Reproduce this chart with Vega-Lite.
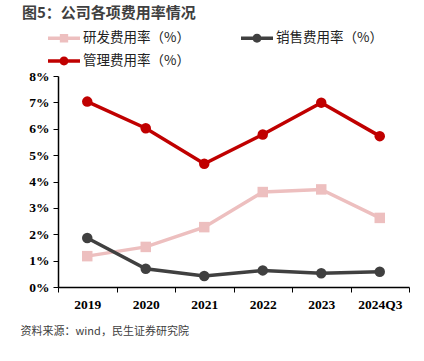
{
  "$schema": "https://vega.github.io/schema/vega-lite/v6.json",
  "autosize": "none",
  "width": 351,
  "height": 211,
  "padding": {"left": 58, "top": 76, "right": 15, "bottom": 74},
  "background": "white",
  "title": {
    "text": "图5：公司各项费用率情况",
    "anchor": "start",
    "frame": "group",
    "font": "Noto Sans CJK SC",
    "fontSize": 15,
    "fontWeight": "bold",
    "color": "#404040",
    "dx": -36,
    "dy": -1,
    "offset": 0
  },
  "data": {
    "values": [
      {"year": "2019", "series": "研发费用率（%）", "value": 1.17},
      {"year": "2020", "series": "研发费用率（%）", "value": 1.52},
      {"year": "2021", "series": "研发费用率（%）", "value": 2.27},
      {"year": "2022", "series": "研发费用率（%）", "value": 3.6},
      {"year": "2023", "series": "研发费用率（%）", "value": 3.7},
      {"year": "2024Q3", "series": "研发费用率（%）", "value": 2.62},
      {"year": "2019", "series": "销售费用率（%）", "value": 1.86},
      {"year": "2020", "series": "销售费用率（%）", "value": 0.69},
      {"year": "2021", "series": "销售费用率（%）", "value": 0.42},
      {"year": "2022", "series": "销售费用率（%）", "value": 0.63},
      {"year": "2023", "series": "销售费用率（%）", "value": 0.52},
      {"year": "2024Q3", "series": "销售费用率（%）", "value": 0.58},
      {"year": "2019", "series": "管理费用率（%）", "value": 7.03},
      {"year": "2020", "series": "管理费用率（%）", "value": 6.02},
      {"year": "2021", "series": "管理费用率（%）", "value": 4.67},
      {"year": "2022", "series": "管理费用率（%）", "value": 5.78},
      {"year": "2023", "series": "管理费用率（%）", "value": 6.99},
      {"year": "2024Q3", "series": "管理费用率（%）", "value": 5.72}
    ]
  },
  "encoding": {
    "x": {
      "field": "year",
      "type": "ordinal",
      "sort": null,
      "scale": {"paddingInner": 0, "paddingOuter": 0},
      "axis": {
        "title": "资料来源：wind，民生证券研究院",
        "titleFont": "Noto Sans CJK SC",
        "titleFontSize": 11,
        "titleFontWeight": "normal",
        "titleColor": "#404040",
        "titleAnchor": "start",
        "titleAlign": "left",
        "titleBaseline": "middle",
        "titleX": -38,
        "titleY": 44,
        "labelAngle": 0,
        "labelFont": "Liberation Serif, Times New Roman, DejaVu Serif, serif",
        "labelFontSize": 13.5,
        "labelFontWeight": "bold",
        "labelColor": "#000000",
        "labelPadding": 5,
        "tickBand": "extent",
        "tickColor": "#000000",
        "tickSize": 5,
        "domainColor": "#000000",
        "domainWidth": 1.5,
        "grid": false
      }
    },
    "y": {
      "field": "value",
      "type": "quantitative",
      "scale": {"domain": [0, 8], "nice": false},
      "axis": {
        "title": null,
        "values": [0, 1, 2, 3, 4, 5, 6, 7, 8],
        "labelExpr": "datum.value + '%'",
        "labelFont": "Liberation Serif, Times New Roman, DejaVu Serif, serif",
        "labelFontSize": 13.5,
        "labelFontWeight": "bold",
        "labelColor": "#000000",
        "labelPadding": 4,
        "tickColor": "#000000",
        "tickSize": 5,
        "domainColor": "#000000",
        "domainWidth": 1.5,
        "grid": false
      }
    },
    "color": {
      "field": "series",
      "type": "nominal",
      "scale": {
        "domain": ["研发费用率（%）", "管理费用率（%）", "销售费用率（%）"],
        "range": ["#EDBFBF", "#C00000", "#404040"]
      },
      "legend": {
        "title": null,
        "orient": "none",
        "legendX": -10,
        "legendY": -54,
        "columns": 2,
        "columnPadding": 51,
        "rowPadding": -21,
        "labelFont": "Noto Sans CJK SC",
        "labelFontSize": 13.5,
        "labelColor": "#222222",
        "labelOffset": 3,
        "symbolSize": 1024,
        "symbolStrokeWidth": 0,
        "symbolType": "M-1,-0.11H1V0.11H-1ZM0.28,0A0.28,0.28 0 1 1 -0.28,0A0.28,0.28 0 1 1 0.28,0Z",
        "encode": {
          "symbols": {
            "update": {
              "shape": {"signal": "datum.value === '研发费用率（%）' ? 'M-1,-0.11H1V0.11H-1ZM-0.26,-0.26H0.26V0.26H-0.26Z' : 'M-1,-0.11H1V0.11H-1ZM0.28,0A0.28,0.28 0 1 1 -0.28,0A0.28,0.28 0 1 1 0.28,0Z'"},
              "strokeWidth": {"value": 0}
            }
          }
        }
      }
    }
  },
  "layer": [
    {"mark": {"type": "line", "strokeWidth": 3.5}},
    {
      "transform": [{"filter": "datum.series === '研发费用率（%）'"}],
      "mark": {"type": "point", "shape": "square", "filled": true, "opacity": 1, "size": 110}
    },
    {
      "transform": [{"filter": "datum.series !== '研发费用率（%）'"}],
      "mark": {"type": "point", "shape": "circle", "filled": true, "opacity": 1, "size": 110}
    }
  ],
  "config": {
    "view": {"stroke": null}
  }
}
